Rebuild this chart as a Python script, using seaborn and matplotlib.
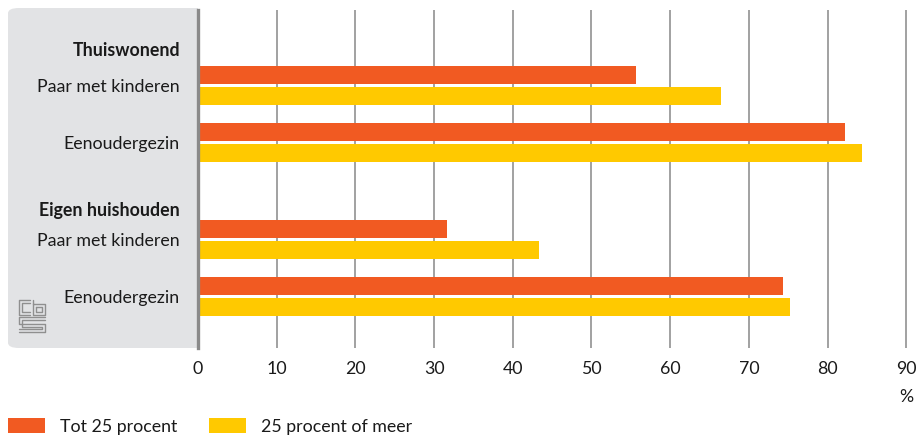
import matplotlib

matplotlib.use("Agg")
import matplotlib.pyplot as plt
import pandas as pd
import seaborn as sns
from matplotlib.patches import FancyBboxPatch, Patch, Rectangle

# data (percentages)
groups = ["Thuiswonend", "Eigen huishouden"]
households = ["Paar met kinderen", "Eenoudergezin"]
series = ["Tot 25 procent", "25 procent of meer"]
tot_25 = [55.7, 82.2, 31.6, 74.4]
vanaf_25 = [66.5, 84.4, 43.3, 75.2]
x_ticks = [0, 10, 20, 30, 40, 50, 60, 70, 80, 90]

ORANGE = "#f15a22"
YELLOW = "#ffc900"
PANEL = "#e2e3e5"
TEXT = "#1a1a1a"
FS = 12.8

sns.set_theme(style="white")
plt.rcParams["font.family"] = ["Lato", "DejaVu Sans"]

# row layout: each group has a header row followed by its household rows
row_pos = [0.0, 1.0, 2.7, 3.7]
header_pos = [-0.64, 2.16]

rows = []
for i, (a, b) in enumerate(zip(tot_25, vanaf_25)):
    rows.append({"pos": row_pos[i], "serie": series[0], "waarde": a})
    rows.append({"pos": row_pos[i], "serie": series[1], "waarde": b})
df = pd.DataFrame(rows)

W, H = 922, 438
fig = plt.figure(figsize=(W / 100, H / 100), dpi=100)
ax = fig.add_axes([198 / W, 1 - 348 / H, (907 - 198) / W, (348 - 10) / H])

# grey label panel behind the category labels (rounded on the left only)
fig.patches.append(FancyBboxPatch(
    (8 / W, 1 - 348 / H), (198 - 8) / W, (348 - 8) / H,
    boxstyle="round,pad=0,rounding_size=0.012",
    transform=fig.transFigure, facecolor=PANEL, edgecolor="none", zorder=-5,
))
fig.patches.append(Rectangle(
    (100 / W, 1 - 348 / H), (198 - 100) / W, (348 - 8) / H,
    transform=fig.transFigure, facecolor=PANEL, edgecolor="none", zorder=-5,
))

sns.barplot(
    data=df, x="waarde", y="pos", hue="serie", orient="h", native_scale=True,
    palette=[ORANGE, YELLOW], width=0.74, gap=0.14, ax=ax, legend=False,
    saturation=1, errorbar=None, zorder=3, linewidth=0,
)

ax.set_xlim(0, 90.1)
ax.set_ylim(4.6, -1.32)
ax.set_xticks(x_ticks)
ax.set_xticklabels([str(t) for t in x_ticks], fontsize=FS, color=TEXT)
ax.grid(axis="x", color="#9a9a9a", linewidth=1.3)
ax.set_axisbelow(True)
ax.set_xlabel("")
ax.set_ylabel("")
ax.tick_params(axis="x", length=0, pad=9)
ax.tick_params(axis="y", length=0, pad=13)

ytick_pos = [header_pos[0], row_pos[0], row_pos[1], header_pos[1], row_pos[2], row_pos[3]]
ytick_lab = [groups[0], households[0], households[1], groups[1], households[0], households[1]]
ax.set_yticks(ytick_pos)
ax.set_yticklabels(ytick_lab, fontsize=FS, color=TEXT)
for lab in ax.get_yticklabels():
    if lab.get_text() in groups:
        lab.set_fontweight("bold")

for side in ["top", "right", "bottom"]:
    ax.spines[side].set_visible(False)
ax.spines["left"].set_color("#8a8a8a")
ax.spines["left"].set_linewidth(2.4)
ax.spines["left"].set_zorder(4)
ax.patch.set_facecolor("white")

fig.text(913 / W, 1 - 397 / H, "%", ha="right", va="center", fontsize=FS, color=TEXT)

# small cbs logo in the panel corner
logo = dict(color="#8f8f8f", linewidth=1.0, transform=fig.transFigure)
def px(xs, ys):
    return [x / W for x in xs], [1 - y / H for y in ys]
fig.lines.append(plt.Line2D(*px([30, 19, 19, 30], [300, 300, 315, 315]), **logo))
fig.lines.append(plt.Line2D(*px([30, 22, 22, 30], [303, 303, 312, 312]), **logo))
fig.lines.append(plt.Line2D(*px([33, 33, 45, 45, 33], [300, 315, 315, 304, 304]), **logo))
fig.lines.append(plt.Line2D(*px([36, 36, 42, 42, 36], [307, 312, 312, 307, 307]), **logo))
fig.lines.append(plt.Line2D(*px([45, 19, 19, 45, 45, 19], [317, 317, 324, 324, 332, 332]), **logo))
fig.lines.append(plt.Line2D(*px([45, 22, 22, 42, 42, 19], [320, 320, 327, 327, 329, 329]), **logo))

handles = [Patch(facecolor=ORANGE, edgecolor="none"), Patch(facecolor=YELLOW, edgecolor="none")]
fig.legend(
    handles, series, loc="lower left", bbox_to_anchor=(8 / W, 3 / H), ncol=2, frameon=False,
    fontsize=FS, handlelength=2.08, handleheight=0.9, handletextpad=0.84,
    columnspacing=1.8, borderaxespad=0.0, borderpad=0.0,
    labelcolor=TEXT,
)

fig.savefig("out.png", dpi=100)
